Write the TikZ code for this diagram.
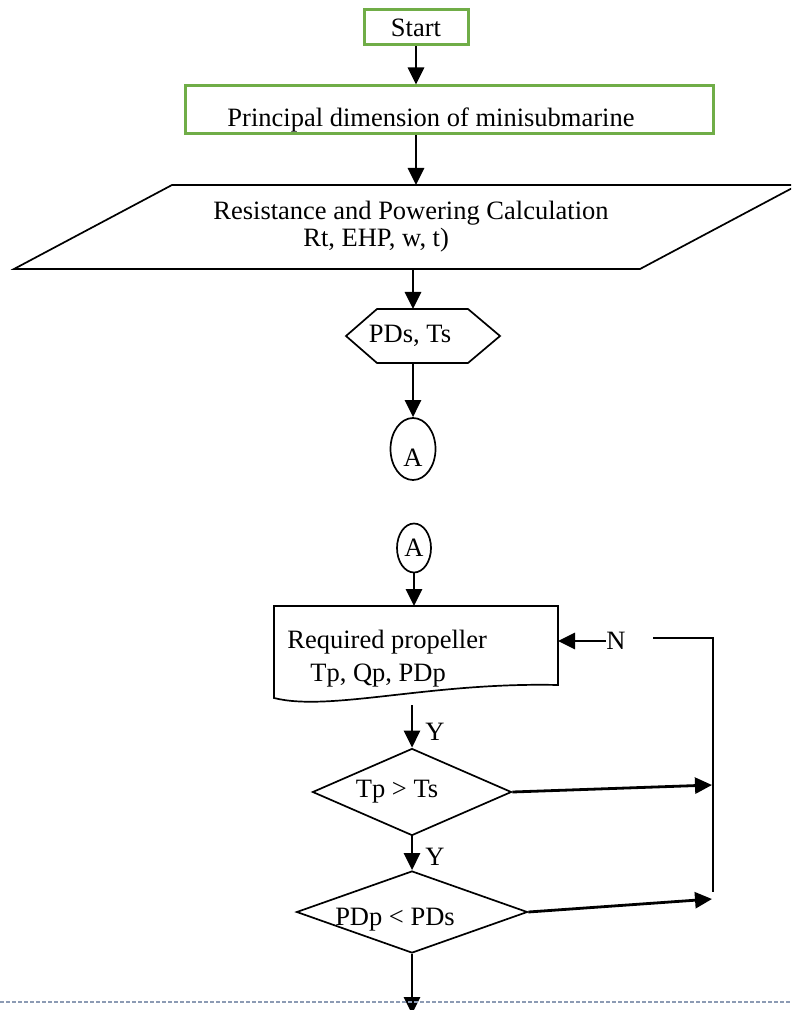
\documentclass[tikz,border=0pt]{standalone}
\usepackage{fontspec}
\setmainfont{Liberation Serif}
\usepackage{tikz}
\usetikzlibrary{arrows.meta,positioning,calc,shapes.geometric}
\definecolor{grn}{HTML}{70AD47}
\definecolor{brk}{HTML}{8C9BB4}
\tikzset{
  >={Triangle[length=8.5pt,width=8pt]},
  txt/.style={font=\fontsize{13.25}{16.5}\selectfont,inner sep=0pt},
  gbox/.style={rectangle,draw=grn,line width=1.5pt,txt},
  shp/.style={draw=black,line width=0.85pt},
  dec/.style={diamond,shp,inner sep=0pt},
  oval/.style={ellipse,shp,inner sep=0pt,txt},
  arr/.style={->,line width=1.4pt},
  ln/.style={line width=1pt},
}
\begin{document}
\begin{tikzpicture}[x=0.5pt,y=-0.5pt]
\clip (0,0) rectangle (791,1010);
% first page
\node[gbox,minimum width=52pt,minimum height=17.5pt] (start) at (416,27.5) {Start};
\node[gbox,minimum width=264pt,minimum height=24pt] (dim) at (449,110) {};
\node[txt] (dimtxt) at (431,120) {Principal dimension of minisubmarine};
\draw[shp] (172,185) -- (798,185) -- (640,269) -- (14,269) -- cycle;
\coordinate (calctop) at (416,185); \coordinate (calcbot) at (413,269);
\node[txt,align=left,anchor=west,font=\fontsize{13.25}{13.5}\selectfont] (calc) at (213,226.5) {Resistance and Powering Calculation\\\hspace{45pt}Rt, EHP, w, t)};
\draw[shp] (346,336) -- (377,309) -- (468,309) -- (500,336) -- (468,363) -- (377,363) -- cycle;
\coordinate (hextop) at (413,309); \coordinate (hexbot) at (413,363);
\node[txt] (pds) at (410,336) {PDs, Ts};
\node[oval,minimum width=22.5pt,minimum height=31pt] (a1) at (413,449) {};
\node[txt] (a1txt) at (413,458) {A};
\draw[arr] (start) -- (start |- dim.north); \draw[arr] (start |- dim.south) -- (calctop);
\draw[arr] (calcbot) -- (hextop); \draw[arr] (hexbot) -- (a1);
% second page
\node[oval,minimum width=17pt,minimum height=24.5pt] (a2) at (414,548) {A};
\draw[shp] (274,606) -- (558,606) -- (558,685) .. controls (430,682) and (330,712) .. (274,698) -- cycle;
\coordinate (reqtop) at (414,606); \coordinate (reqbot) at (412,705); \coordinate (reqe) at (558,641);
\node[txt,align=left,anchor=west] (req) at (287,658.5) {Required propeller\\\hspace{11.5pt}Tp, Qp, PDp};
\node[dec,minimum width=99.5pt,minimum height=43.5pt] (tp) at (412,792) {};
\node[txt] (tptxt) at (397,792) {Tp > Ts};
\node[dec,minimum width=115.5pt,minimum height=41pt] (pd) at (412,912) {};
\node[txt] (pdtxt) at (395,920) {PDp < PDs};
\node[txt] (n) at (616,641) {N};
\coordinate (nend) at (653,638); \coordinate (ltop) at (713,638); \coordinate (lbot) at (713,892);
\coordinate (j1) at (712,785); \coordinate (j2) at (712,899); \coordinate (out) at (412,1014);
\draw[arr] (a2) -- (reqtop);
\draw[arr] (reqbot) -- (tp.north) node[txt,pos=0.64,right=6pt] {Y};
\draw[arr] (tp.south) -- (pd.north) node[txt,pos=0.6,right=6pt] {Y};
\draw[arr] (tp.east) -- (j1); \draw[arr] (pd.east) -- (j2);
\draw[ln] (nend) -- (ltop) -- (lbot);
\draw[arr] (n.west) -- (reqe);
\draw[arr] (pd.south) -- (out);
\draw[brk,line width=0.6pt,dash pattern=on 2pt off 1pt] (0,1002) -- (791,1002);
\end{tikzpicture}
\end{document}
